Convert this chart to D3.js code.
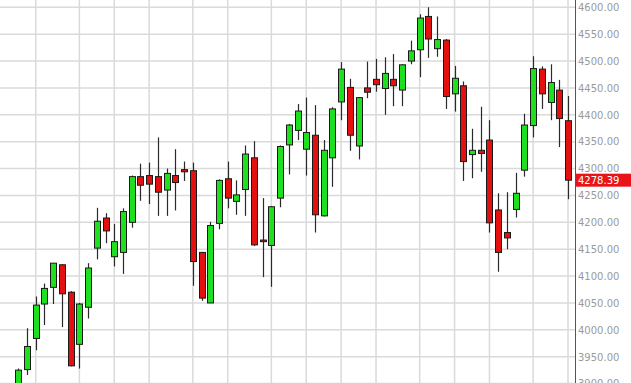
<!DOCTYPE html>
<html>
<head>
<meta charset="utf-8">
<script src="https://cdn.jsdelivr.net/npm/d3@7"></script>
<style>
  html, body { margin: 0; padding: 0; background: #fff; }
  svg { display: block; }
</style>
</head>
<body>
<svg id="chart" width="631" height="383"></svg>
<script>
// weekly candles, oldest first
const OPEN  = [3890,3926,3984,4048,4079,4121,4070,3973,4042,4152,4208,4136,4144,4200,4285,4287,
               4285,4260,4287,4298,4296,4144,4050,4198,4281,4239,4261,4320,4167,4157,4245,4344,
               4371,4336,4362,4212,4320,4424,4451,4342,4450,4466,4449,4466,4446,4500,4521,4583,
               4523,4539,4439,4454,4326,4334,4353,4223,4181,4224,4297,4380,4485,4423,4446,4389];
const HIGH  = [3928,4003,4062,4086,4124,4122,4072,4050,4124,4227,4217,4197,4226,4287,4309,4311,
               4358,4300,4336,4313,4311,4145,4201,4280,4313,4278,4343,4351,4245,4230,4343,4383,
               4420,4432,4418,4353,4414,4498,4467,4433,4499,4504,4507,4513,4494,4538,4587,4600,
               4583,4541,4491,4462,4374,4415,4390,4254,4256,4292,4402,4509,4490,4494,4465,4435];
const LOW   = [3885,3916,3962,4009,4048,4005,3932,3928,4021,4131,4161,4118,4104,4190,4240,4234,
               4212,4212,4222,4277,4082,4054,4050,4187,4226,4214,4212,4156,4098,4080,4228,4289,
               4353,4287,4181,4211,4266,4390,4333,4317,4431,4443,4400,4416,4416,4494,4470,4506,
               4508,4411,4406,4277,4282,4294,4181,4108,4150,4209,4285,4358,4411,4390,4340,4243];
const CLOSE = [3925,3969,4046,4077,4124,4067,3933,4048,4115,4202,4184,4164,4220,4285,4269,4271,
               4256,4291,4274,4294,4127,4059,4194,4278,4245,4251,4327,4158,4164,4229,4341,4381,
               4407,4367,4214,4334,4411,4485,4362,4432,4442,4456,4477,4454,4493,4519,4580,4541,
               4540,4434,4468,4313,4334,4328,4199,4144,4171,4254,4381,4486,4439,4460,4393,4278.39];
// candle index where each month starts (vertical grid)
const MONTH_STARTS = [2,7,11,15,20,24,29,33,37,41,46,50,54,59,63];
const PRICE_TICKS = d3.range(3900, 4601, 50);
const LAST_PRICE = 4278.39;

const UP_COLOR = '#1fe01f';
const DOWN_COLOR = '#e3100f';

var svg = d3.select('#chart'),
    width = +svg.attr('width'),
    height = +svg.attr('height'),
    axis_x = 575;

var candles = OPEN.map(function(o, i) {
    return { i: i, open: o, high: HIGH[i], low: LOW[i], close: CLOSE[i] };
});

var x = d3.scaleLinear().domain([0, candles.length - 1]).range([18.3, 568]);
var y = d3.scaleLinear().domain([3950, 4600]).range([356.7, 7.3]);

// grid
svg.append('g').selectAll('line').data(PRICE_TICKS)
    .enter().append('line')
    .attr('x1', 0).attr('x2', axis_x)
    .attr('y1', function(d) { return y(d); })
    .attr('y2', function(d) { return y(d); })
    .attr('stroke', '#dadada')
    .attr('stroke-width', 1.5);

svg.append('g').selectAll('line').data(MONTH_STARTS)
    .enter().append('line')
    .attr('x1', function(d) { return x(d); })
    .attr('x2', function(d) { return x(d); })
    .attr('y1', 0).attr('y2', height)
    .attr('stroke', '#dadada')
    .attr('stroke-width', 1.5);

// candles
var g = svg.append('g');
g.selectAll('.wick').data(candles)
    .enter().append('line')
    .attr('class', 'wick')
    .attr('x1', function(d) { return Math.round(x(d.i)) + 0.5; })
    .attr('x2', function(d) { return Math.round(x(d.i)) + 0.5; })
    .attr('y1', function(d) { return y(d.high); })
    .attr('y2', function(d) { return y(d.low); })
    .attr('stroke', '#2a2a2a')
    .attr('stroke-width', 1.2);

g.selectAll('.body').data(candles)
    .enter().append('rect')
    .attr('class', 'body')
    .attr('x', function(d) { return Math.round(x(d.i)) - 2.5; })
    .attr('y', function(d) { return y(Math.max(d.open, d.close)); })
    .attr('width', 6)
    .attr('height', function(d) { return Math.max(1, Math.abs(y(d.open) - y(d.close))); })
    .attr('fill', function(d) { return d.close >= d.open ? UP_COLOR : DOWN_COLOR; })
    .attr('stroke', '#1a1a1a')
    .attr('stroke-width', 1);

// price axis
svg.append('line')
    .attr('x1', axis_x + 0.5).attr('x2', axis_x + 0.5)
    .attr('y1', 0).attr('y2', height)
    .attr('stroke', '#555')
    .attr('stroke-width', 1);

svg.append('g').selectAll('text').data(PRICE_TICKS)
    .enter().append('text')
    .attr('x', 578)
    .attr('y', function(d) { return y(d) + 3.8; })
    .attr('font-family', 'DejaVu Sans, Verdana, sans-serif')
    .attr('font-size', 10)
    .attr('fill', '#9a9a9a')
    .text(function(d) { return d3.format('.2f')(d); });

// last price tag
svg.append('rect')
    .attr('x', axis_x + 1)
    .attr('y', y(LAST_PRICE) - 6.5)
    .attr('width', width - axis_x - 1)
    .attr('height', 13)
    .attr('fill', '#e8141a');

svg.append('text')
    .attr('x', 578)
    .attr('y', y(LAST_PRICE) + 3.8)
    .attr('font-family', 'DejaVu Sans, Verdana, sans-serif')
    .attr('font-size', 10)
    .attr('fill', '#fff')
    .text(d3.format('.2f')(LAST_PRICE));
</script>
</body>
</html>
